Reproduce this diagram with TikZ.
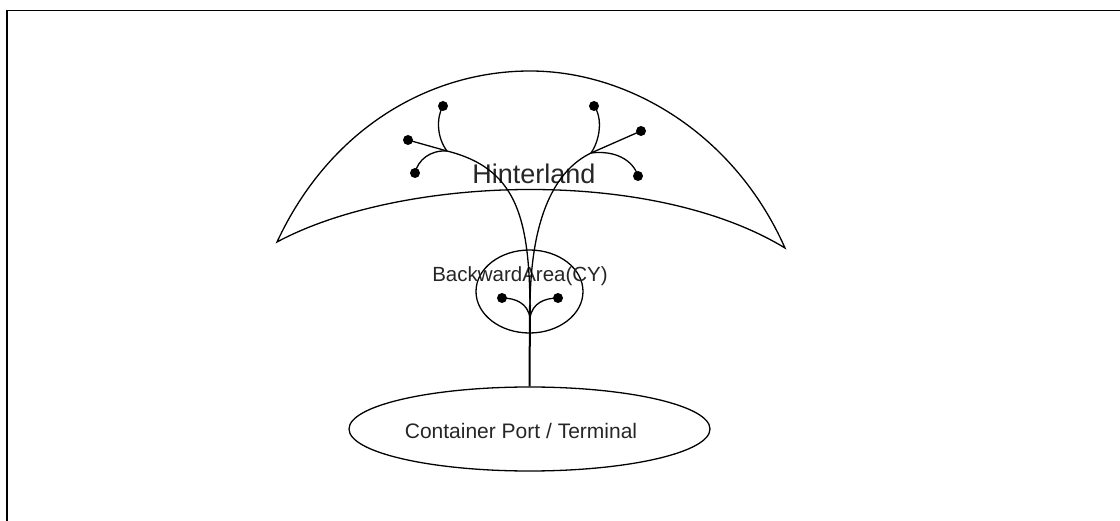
\documentclass[tikz,border=0pt]{standalone}
\usepackage{fontspec}
\setmainfont{Liberation Sans}
\usetikzlibrary{shapes.geometric}
\begin{document}
\begin{tikzpicture}[x=1pt,y=-1pt,
  line/.style={line width=1.3pt, black},
  dot/.style={circle, fill=black, inner sep=0pt, minimum size=10pt},
  area/.style={ellipse, draw, line width=1.3pt, inner sep=0pt},
  lbl/.style={inner sep=0pt, text=black!85}]
\useasboundingbox (0,0) rectangle (1120,521);
% frame
\draw[line width=1.6pt] (7,521) -- (7,10.5) -- (1120,10.5);
% hinterland crescent
\draw[line] (277,242) .. controls (330,128) and (430,71) .. (530,71)
  .. controls (630,71) and (735,135) .. (785,248)
  .. controls (650,166) and (400,176) .. cycle;
\node[lbl, font=\fontsize{27}{30}\selectfont] (hint) at (534,174) {Hinterland};
% backward area
\node[area, minimum width=107pt, minimum height=83pt] (bw) at (529.5,291.5) {};
\node[lbl, font=\fontsize{20.5}{24}\selectfont] (bwt) at (520,276) {BackwardArea(CY)};
% port
\node[area, minimum width=361pt, minimum height=84pt] (port) at (529.5,429) {};
\node[lbl, font=\fontsize{21}{24}\selectfont] (portt) at (521,431) {Container Port / Terminal};
% branch points
\coordinate (BL) at (447,151);
\coordinate (BR) at (591,153);
\coordinate (ST) at (530,305);
\coordinate (SI) at (530,318);
% dots
\node[dot] (L1) at (443,106) {};
\node[dot] (L2) at (408,140) {};
\node[dot] (L3) at (415,173) {};
\node[dot] (R1) at (594,106) {};
\node[dot] (R2) at (641,131) {};
\node[dot] (R3) at (638,176) {};
\node[dot] (B1) at (502,298) {};
\node[dot] (B2) at (558,298) {};
% main trunks
\draw[line] (L2.center) -- (BL) .. controls (515,168) and (529,215) .. (ST);
\draw[line] (R2.center) -- (BR) .. controls (556,170) and (531,215) .. (ST);
\draw[line] (BL) .. controls (437,138) and (436,118) .. (L1.center);
\draw[line] (BL) .. controls (430,150) and (418,160) .. (L3.center);
\draw[line] (BR) .. controls (600,140) and (603,118) .. (R1.center);
\draw[line] (BR) .. controls (615,150) and (633,160) .. (R3.center);
\draw[line] (B1.center) .. controls (515,298) and (528,303) .. (SI);
\draw[line] (B2.center) .. controls (545,298) and (532,303) .. (SI);
% stem
\draw[line width=2pt] (ST) -- (port.north);
\end{tikzpicture}
\end{document}
